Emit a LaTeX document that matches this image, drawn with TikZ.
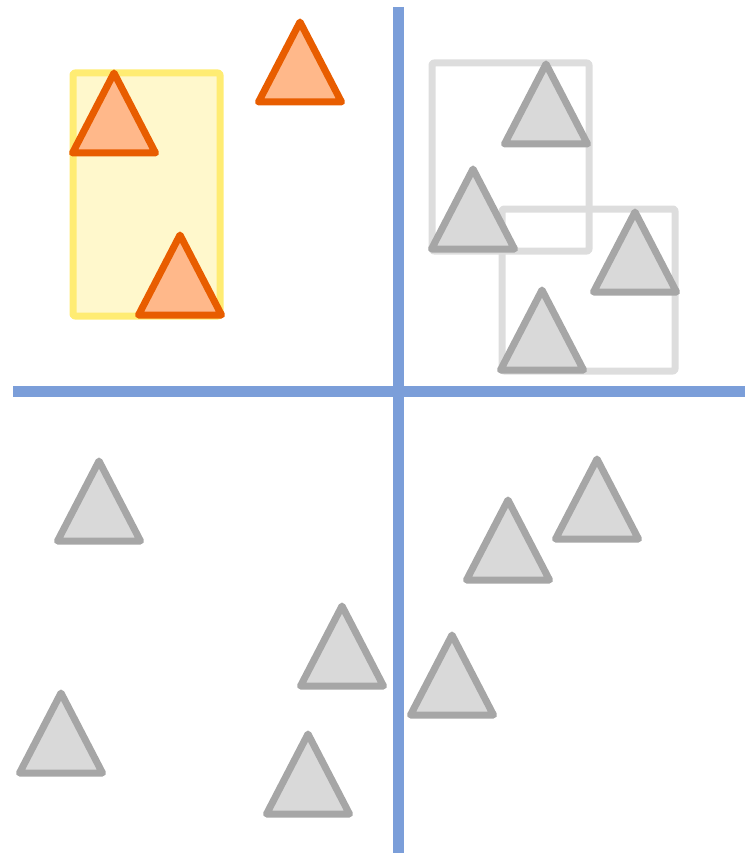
\documentclass[tikz,border=0pt]{standalone}
\usetikzlibrary{}
\definecolor{axisblue}{HTML}{7B9ED9}
\definecolor{orfill}{HTML}{FFB88A}
\definecolor{orline}{HTML}{E85D00}
\definecolor{grfill}{HTML}{D9D9D9}
\definecolor{grline}{HTML}{A6A6A6}
\definecolor{boxline}{HTML}{DDDDDD}
\definecolor{yfill}{HTML}{FFF8CC}
\definecolor{yline}{HTML}{FFEC73}
\tikzset{
  axis/.style={draw=axisblue,line width=11pt},
  hltri/.style={draw=orline,fill=orfill,line width=7pt,line join=round},
  gtri/.style={draw=grline,fill=grfill,line width=7pt,line join=round},
  gbox/.style={draw=boxline,line width=7pt,line join=round,rounded corners=2pt},
  ybox/.style={draw=yline,fill=yfill,line width=7pt,line join=round,rounded corners=2pt},
}
\newcommand\mytri[3]{\draw[#1] (#2,#3) -- ++(-41.5,80) -- ++(83,0) -- cycle;}
\begin{document}
\begin{tikzpicture}[x=1pt,y=-1pt]
\useasboundingbox (0,0) rectangle (745,853);
% quadrant axes
\draw[axis] (398,7) -- (398,853);
\draw[axis] (13,391) -- (745,391);
% highlighted region
\draw[ybox] (73,73) rectangle (220,316);
% grey boxes
\draw[gbox] (432,63) rectangle (589,251);
\draw[gbox] (502,209) rectangle (675,371);
% orange triangles
\mytri{hltri}{114}{73}
\mytri{hltri}{300}{22}
\mytri{hltri}{180}{235}
% grey triangles
\mytri{gtri}{546}{64}
\mytri{gtri}{473}{169}
\mytri{gtri}{635}{212}
\mytri{gtri}{542}{290}
\mytri{gtri}{99}{461}
\mytri{gtri}{597}{459}
\mytri{gtri}{508}{500}
\mytri{gtri}{342}{606}
\mytri{gtri}{452}{635}
\mytri{gtri}{61}{693}
\mytri{gtri}{308}{734}
\end{tikzpicture}
\end{document}
